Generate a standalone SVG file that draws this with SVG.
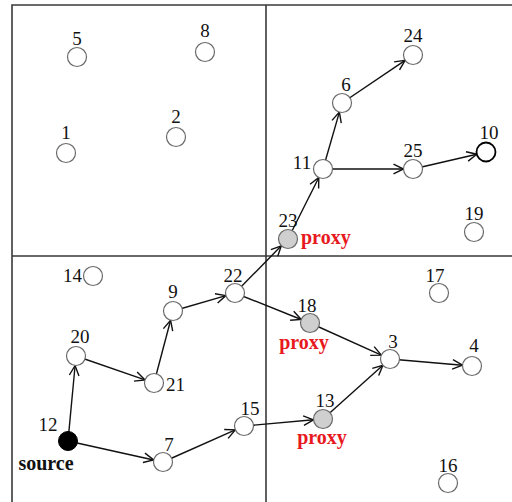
<svg xmlns="http://www.w3.org/2000/svg" width="512" height="502" viewBox="0 0 512 502">
<defs>
<style>
.frame{stroke:#3a3a3a;stroke-width:1.6;fill:none}
.edge{stroke:#111;stroke-width:1.4;fill:none;marker-end:url(#arr)}
.n{fill:#fff;stroke:#6a6a6a;stroke-width:1.2}
.p{fill:#cfcfcf;stroke:#6a6a6a;stroke-width:1.2}
.lb{font-family:"Liberation Serif","Times New Roman",serif;font-size:19px;fill:#111;text-anchor:middle}
.px{font-family:"Liberation Serif","Times New Roman",serif;font-size:20px;font-weight:bold;fill:#e8191e}
.src{font-family:"Liberation Serif","Times New Roman",serif;font-size:20px;font-weight:bold;fill:#111}
</style>
<marker id="arr" markerUnits="userSpaceOnUse" markerWidth="14" markerHeight="14" viewBox="-12 -7 14 14" refX="0" refY="0" orient="auto">
<path d="M-10,-4.8 L0,0 L-10,4.8" fill="none" stroke="#111" stroke-width="1.4"/>
</marker>
</defs>
<rect width="512" height="502" fill="#fff"/>
<g id="frame">
<path class="frame" d="M12,502 V5 H512 M266,5 V502 M12,256 H512"/>
</g>
<g id="connectors">
<line class="edge" x1="68" y1="441" x2="75.1" y2="365.5"/>
<line class="edge" x1="68" y1="441" x2="153.7" y2="460"/>
<line class="edge" x1="76" y1="356" x2="145" y2="379.9"/>
<line class="edge" x1="154" y1="383" x2="170.6" y2="320.2"/>
<line class="edge" x1="173" y1="311" x2="225.9" y2="295.6"/>
<line class="edge" x1="235" y1="293" x2="281.3" y2="245.8"/>
<line class="edge" x1="235" y1="293" x2="301.2" y2="319.5"/>
<line class="edge" x1="163" y1="462" x2="235.3" y2="429.9"/>
<line class="edge" x1="244" y1="426" x2="313.5" y2="419.8"/>
<line class="edge" x1="310" y1="323" x2="381.3" y2="355.1"/>
<line class="edge" x1="323" y1="419" x2="382.9" y2="365.3"/>
<line class="edge" x1="390" y1="359" x2="462.5" y2="365.2"/>
<line class="edge" x1="288" y1="239" x2="318.8" y2="177.5"/>
<line class="edge" x1="323" y1="169" x2="339.4" y2="112.1"/>
<line class="edge" x1="323" y1="169" x2="403.5" y2="169"/>
<line class="edge" x1="342" y1="103" x2="405.1" y2="60.3"/>
<line class="edge" x1="413" y1="169" x2="476.8" y2="154.2"/>
</g>
<g id="n1"><circle class="n" cx="66" cy="153" r="9.5"/><text class="lb" x="66" y="139">1</text></g>
<g id="n2"><circle class="n" cx="176" cy="137" r="9.5"/><text class="lb" x="176" y="123">2</text></g>
<g id="n5"><circle class="n" cx="77" cy="57" r="9.5"/><text class="lb" x="77" y="45">5</text></g>
<g id="n8"><circle class="n" cx="205" cy="52" r="9.5"/><text class="lb" x="205" y="37">8</text></g>
<g id="n24"><circle class="n" cx="413" cy="55" r="9.5"/><text class="lb" x="413" y="42">24</text></g>
<g id="n6"><circle class="n" cx="342" cy="103" r="9.5"/><text class="lb" x="346" y="91">6</text></g>
<g id="n11"><circle class="n" cx="323" cy="169" r="9.5"/><text class="lb" x="302" y="169">11</text></g>
<g id="n25"><circle class="n" cx="413" cy="169" r="9.5"/><text class="lb" x="413" y="157">25</text></g>
<g id="n10"><circle cx="486" cy="152" r="9.5" fill="#fff" stroke="#000" stroke-width="1.8"/><text class="lb" x="489" y="139">10</text></g>
<g id="n19"><circle class="n" cx="474" cy="232" r="9.5"/><text class="lb" x="474" y="220">19</text></g>
<g id="n23"><circle class="p" cx="288" cy="239" r="9.5"/><text class="lb" x="288" y="227">23</text><text class="px" x="301" y="244">proxy</text></g>
<g id="n14"><circle class="n" cx="93" cy="276" r="9.5"/><text class="lb" x="82" y="282" style="text-anchor:end">14</text></g>
<g id="n22"><circle class="n" cx="235" cy="293" r="9.5"/><text class="lb" x="233" y="282">22</text></g>
<g id="n9"><circle class="n" cx="173" cy="311" r="9.5"/><text class="lb" x="173" y="298">9</text></g>
<g id="n20"><circle class="n" cx="76" cy="356" r="9.5"/><text class="lb" x="80" y="343">20</text></g>
<g id="n21"><circle class="n" cx="154" cy="383" r="9.5"/><text class="lb" x="166" y="391" style="text-anchor:start">21</text></g>
<g id="n12"><circle cx="68" cy="441" r="9.5" fill="#000" stroke="#000" stroke-width="1"/><text class="lb" x="48" y="431">12</text><text class="src" x="46" y="470" text-anchor="middle">source</text></g>
<g id="n7"><circle class="n" cx="163" cy="462" r="9.5"/><text class="lb" x="169" y="451">7</text></g>
<g id="n15"><circle class="n" cx="244" cy="426" r="9.5"/><text class="lb" x="250" y="415">15</text></g>
<g id="n17"><circle class="n" cx="439" cy="293" r="9.5"/><text class="lb" x="435" y="282">17</text></g>
<g id="n18"><circle class="p" cx="310" cy="323" r="9.5"/><text class="lb" x="307" y="312">18</text><text class="px" x="304" y="349" text-anchor="middle">proxy</text></g>
<g id="n3"><circle class="n" cx="390" cy="359" r="9.5"/><text class="lb" x="393" y="348">3</text></g>
<g id="n4"><circle class="n" cx="472" cy="366" r="9.5"/><text class="lb" x="474" y="352">4</text></g>
<g id="n13"><circle class="p" cx="323" cy="419" r="9.5"/><text class="lb" x="325" y="407">13</text><text class="px" x="322" y="444" text-anchor="middle">proxy</text></g>
<g id="n16"><circle class="n" cx="448" cy="483" r="9.5"/><text class="lb" x="448" y="472">16</text></g>
</svg>
